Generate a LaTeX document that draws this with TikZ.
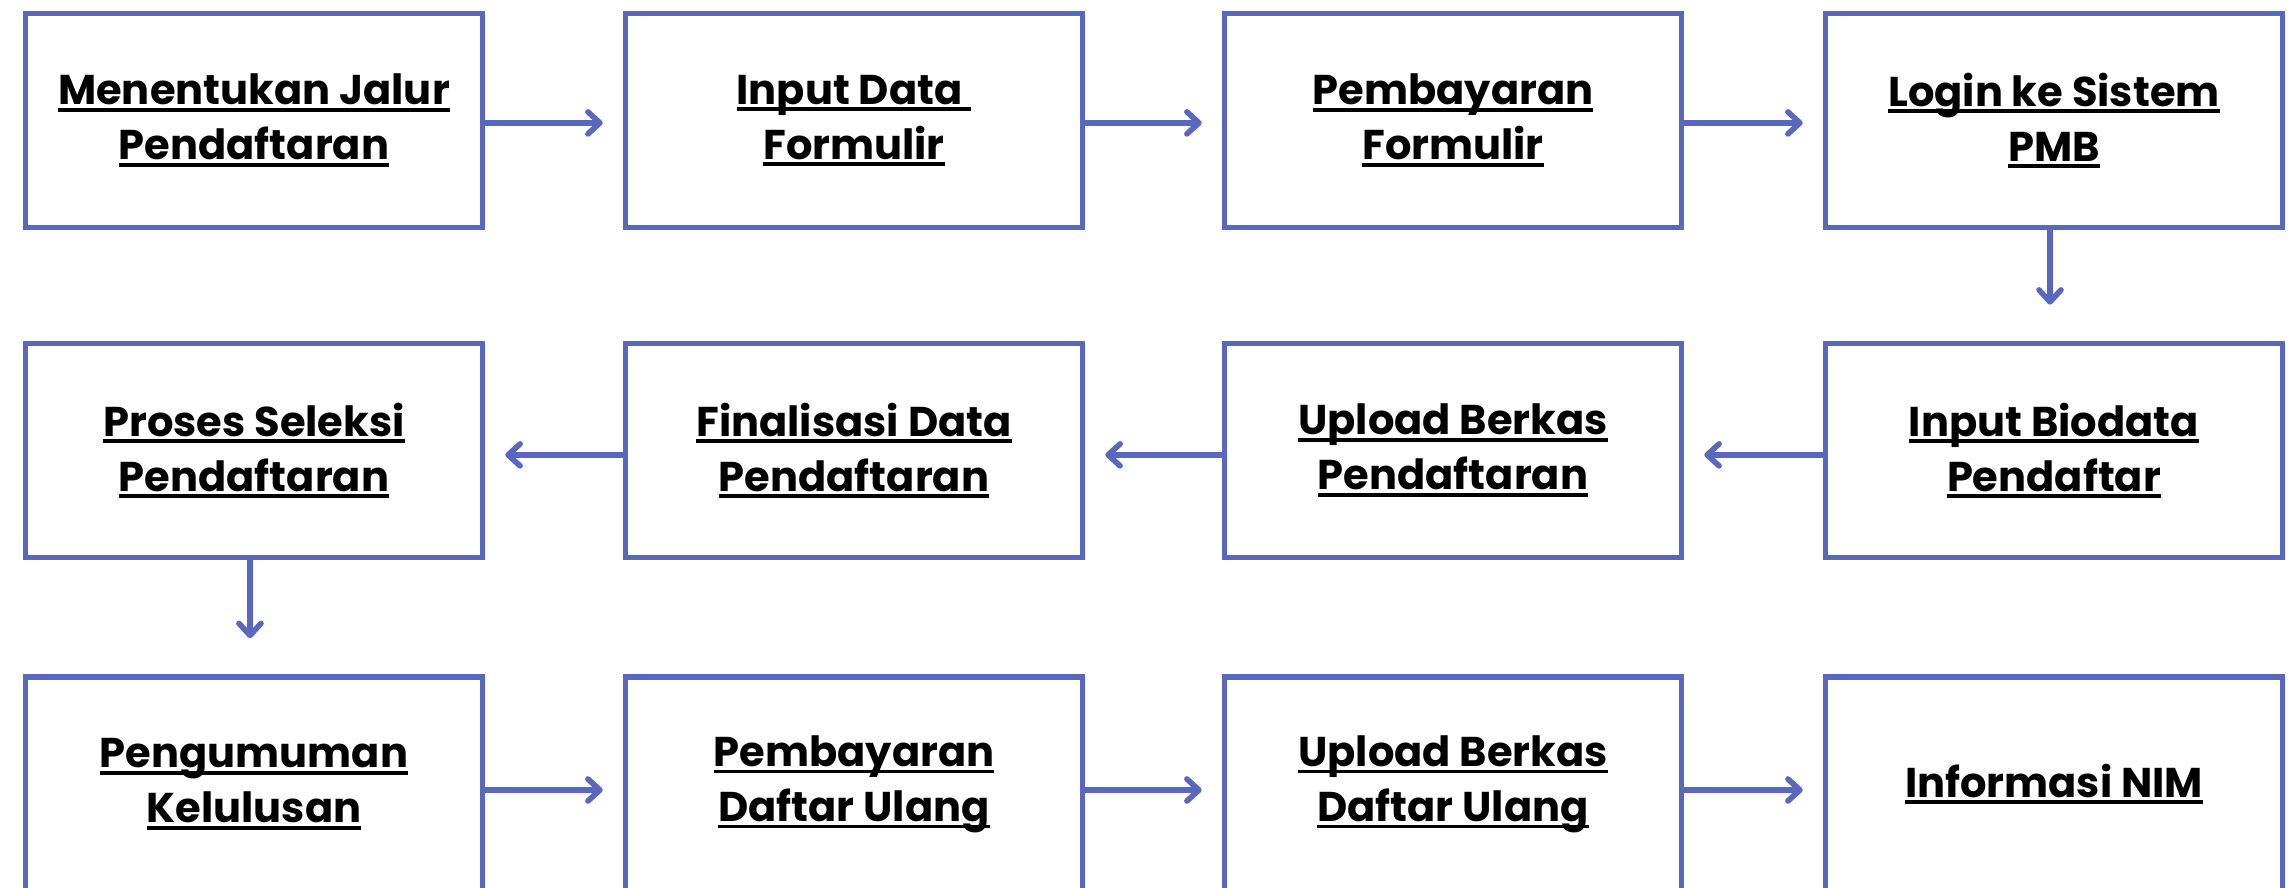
\documentclass[tikz,border=0pt]{standalone}
\usepackage{fontspec}
\newfontfamily\pop{Poppins}[UprightFont={* Bold}]
\usetikzlibrary{arrows.meta}
\definecolor{boxc}{RGB}{90,103,190}
\newcommand\uline[1]{\setbox0=\hbox{#1}\rlap{\rule[-3.6pt]{\wd0}{1.9pt}}\box0}
\tikzset{
  stepbox/.style={draw=boxc, line width=2.8pt, minimum width=228.5pt, minimum height=107pt,
    inner sep=0pt, align=center, font=\pop\fontsize{20.8}{27.5}\selectfont, text=black},
  flow/.style={draw=boxc, line width=2.8pt,
    -{Straight Barb[length=6pt,width=11pt,line cap=round,line join=round]}, shorten >=10pt},
  flowv/.style={flow, shorten >=18pt}
}
\begin{document}
\begin{tikzpicture}[x=0.5pt,y=-0.5pt]
\useasboundingbox[fill=white] (0,0) rectangle (2292,888);
% row 1
\node[stepbox] (a1) at (254,120.5) {\uline{Menentukan Jalur}\\\uline{Pendaftaran}};
\node[stepbox] (a2) at (854,120.5) {\uline{Input Data\ }\\\uline{Formulir}};
\node[stepbox] (a3) at (1453,120.5) {\uline{Pembayaran}\\\uline{Formulir}};
\node[stepbox] (a4) at (2054,120.5) {\uline{Login ke Sistem}\\\uline{PMB}};
% row 2
\node[stepbox] (b1) at (254,450.5) {\uline{Proses Seleksi}\\\uline{Pendaftaran}};
\node[stepbox] (b2) at (854,450.5) {\uline{Finalisasi Data}\\\uline{Pendaftaran}};
\node[stepbox] (b3) at (1453,450.5) {\uline{Upload Berkas}\\\uline{Pendaftaran}};
\node[stepbox] (b4) at (2054,450.5) {\uline{Input Biodata}\\\uline{Pendaftar}};
% row 3
\node[stepbox] (c1) at (254,784) {\uline{Pengumuman}\\\uline{Kelulusan}};
\node[stepbox] (c2) at (854,784) {\uline{Pembayaran}\\\uline{Daftar Ulang}};
\node[stepbox] (c3) at (1453,784) {\uline{Upload Berkas}\\\uline{Daftar Ulang}};
\node[stepbox] (c4) at (2054,784) {\uline{Informasi NIM}};
% connectors
\draw[flow] ([yshift=-1.2pt]a1.east) -- ([yshift=-1.2pt]a2.west);
\draw[flow] ([yshift=-1.2pt]a2.east) -- ([yshift=-1.2pt]a3.west);
\draw[flow] ([yshift=-1.2pt]a3.east) -- ([yshift=-1.2pt]a4.west);
\draw[flowv] ([xshift=-2pt]a4.south) -- ([xshift=-2pt]b4.north);
\draw[flow] ([yshift=-2.2pt]b4.west) -- ([yshift=-2.2pt]b3.east);
\draw[flow] ([yshift=-2.2pt]b3.west) -- ([yshift=-2.2pt]b2.east);
\draw[flow] ([yshift=-2.2pt]b2.west) -- ([yshift=-2.2pt]b1.east);
\draw[flowv] ([xshift=-2pt]b1.south) -- ([xshift=-2pt]c1.north);
\draw[flow] ([yshift=-3pt]c1.east) -- ([yshift=-3pt]c2.west);
\draw[flow] ([yshift=-3pt]c2.east) -- ([yshift=-3pt]c3.west);
\draw[flow] ([yshift=-3pt]c3.east) -- ([yshift=-3pt]c4.west);
\end{tikzpicture}
\end{document}
